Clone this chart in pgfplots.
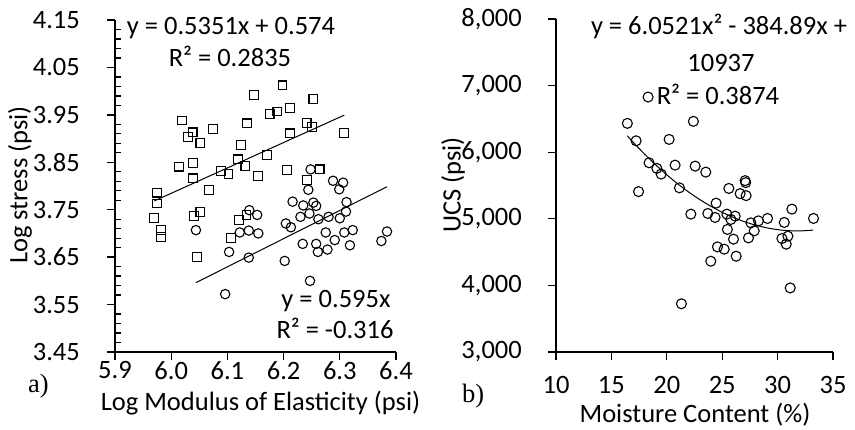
\documentclass[border=0pt]{standalone}
\usepackage{fontspec}
\setmainfont{Carlito}
\newfontfamily\abfont{Liberation Serif}
\usepackage{pgfplots}
\pgfplotsset{compat=1.18}
\pgfplotstableread{
x y
5.975 3.786
5.975 3.763
5.970 3.732
5.982 3.707
5.982 3.692
6.014 3.841
6.019 3.938
6.030 3.904
6.038 3.913
6.039 3.848
6.039 3.816
6.041 3.737
6.052 3.745
6.046 3.650
6.052 3.890
6.067 3.792
6.074 3.920
6.089 3.831
6.102 3.825
6.106 3.690
6.119 3.856
6.121 3.728
6.124 3.886
6.132 3.842
6.134 3.739
6.135 3.932
6.147 3.992
6.154 3.821
6.170 3.865
6.175 3.952
6.189 3.957
6.198 4.012
6.211 3.965
6.211 3.911
6.206 3.834
6.241 3.933
6.250 3.925
6.253 3.984
6.264 3.835
6.242 3.813
6.308 3.912
}\squares
\pgfplotstableread{
x y
6.044 3.707
6.103 3.661
6.096 3.572
6.122 3.702
6.138 3.706
6.139 3.749
6.153 3.739
6.155 3.700
6.138 3.649
6.202 3.642
6.247 3.600
6.216 3.767
6.235 3.759
6.253 3.765
6.258 3.758
6.230 3.735
6.246 3.742
6.262 3.730
6.280 3.735
6.300 3.732
6.312 3.766
6.311 3.746
6.204 3.721
6.213 3.713
6.275 3.702
6.291 3.686
6.308 3.702
6.323 3.707
6.234 3.678
6.258 3.678
6.261 3.661
6.278 3.666
6.318 3.675
6.374 3.684
6.384 3.704
6.248 3.835
6.288 3.811
6.306 3.807
6.299 3.793
6.244 3.792
}\circles
\pgfplotstableread{
x y
16.44 6433
22.40 6463
17.23 6171
20.21 6192
18.40 5841
19.10 5757
19.49 5671
20.75 5806
22.56 5791
23.52 5701
17.45 5408
21.14 5465
25.60 5456
27.07 5573
27.12 5543
26.62 5378
27.16 5348
24.45 5235
22.17 5070
23.70 5080
24.36 5020
25.42 5070
26.17 5040
25.78 4990
27.59 4939
28.27 4969
29.09 5005
31.29 5145
30.60 4945
33.24 5005
25.47 4840
27.89 4819
26.02 4694
27.37 4713
30.39 4704
30.93 4739
30.78 4619
24.57 4578
25.18 4544
26.26 4438
23.97 4363
31.14 3962
21.32 3724
18.31 6828
}\ucs
\begin{document}
\fontsize{26.5}{31}\selectfont
\begin{tikzpicture}[x=1pt,y=1pt]
\useasboundingbox (0pt,0pt) rectangle (855pt,430pt);
\pgfplotsset{
  myax/.style={
    scale only axis,
    axis x line*=bottom, axis y line*=left,
    axis line style={-, line width=1.6pt},
    tick style={line width=1.3pt, black},
    tick align=outside,
    major tick length=8pt,
    minor tick length=6pt,
    /pgf/number format/assume math mode=true,
    scaled ticks=false,
    clip=false,
  }
}
\begin{axis}[myax,
  at={(115pt,78pt)}, anchor=south west,
  width=281pt, height=332pt,
  xmin=5.9, xmax=6.4, ymin=3.45, ymax=4.15,
  xtick={5.9,6.0,6.1,6.2,6.3,6.4},
  ytick={3.45,3.55,3.65,3.75,3.85,3.95,4.05,4.15},
  minor y tick num=4,
  minor tick style={xshift=6pt},
  xticklabel style={inner sep=0pt, yshift=-1pt, /pgf/number format/fixed, /pgf/number format/fixed zerofill, /pgf/number format/precision=1},
  yticklabel style={inner sep=0pt, xshift=-27pt, /pgf/number format/fixed, /pgf/number format/fixed zerofill, /pgf/number format/precision=2},
]
\addplot[only marks, mark=square, mark size=4.4pt, mark options={line width=1.1pt, black}] table[x=x,y=y] {\squares};
\addplot[only marks, mark=o, mark size=4.7pt, mark options={line width=1.1pt, black}] table[x=x,y=y] {\circles};
\addplot[no marks, line width=1pt, black] coordinates {(5.970,3.7685) (6.308,3.9494)};
\addplot[no marks, line width=1pt, black] coordinates {(6.044,3.5962) (6.384,3.7985)};
\end{axis}
\begin{axis}[myax,
  at={(556pt,78pt)}, anchor=south west,
  width=277pt, height=333pt,
  xmin=10, xmax=35, ymin=3000, ymax=8000,
  xtick={10,15,20,25,30,35},
  ytick={3000,4000,5000,6000,7000,8000},
  xticklabel style={inner sep=0pt, yshift=-16pt},
  yticklabel style={inner sep=0pt, xshift=-26pt, /pgf/number format/1000 sep={,}},
]
\addplot[only marks, mark=o, mark size=5pt, mark options={line width=1.1pt, black}] table[x=x,y=y] {\ucs};
\addplot[no marks, line width=1pt, black, smooth] coordinates {
(16.44,6247) (17,6143) (18,5970) (19,5809) (20,5660) (21,5523) (22,5399)
(23,5286) (24,5186) (25,5097) (26,5021) (27,4957) (28,4905) (29,4865)
(30,4837) (31,4822) (32,4818) (33.2,4830)};
\end{axis}
% axis labels
\node[rotate=90] at (20pt,245pt) {Log stress (psi)};
\node[rotate=90] at (453pt,245pt) {UCS (psi)};
\node[anchor=base] at (260.5pt,19pt) {Log Modulus of Elasticity (psi)};
\node[anchor=base] at (695pt,7.3pt) {Moisture Content (\%)};
\node[anchor=base west, inner sep=0pt] at (28pt,37pt) {\abfont a)};
\node[anchor=base west, inner sep=0pt] at (462pt,27pt) {\abfont b)};
% trendline equations
\node[anchor=base] at (231pt,395pt) {y = 0.5351x + 0.574};
\node[anchor=base] at (230pt,363.3pt) {R² = 0.2835};
\node[anchor=base] at (336pt,122.3pt) {y = 0.595x};
\node[anchor=base] at (335pt,91.7pt) {R² = -0.316};
\node[anchor=base] at (719pt,395pt) {y = 6.0521x² - 384.89x +};
\node[anchor=base] at (721pt,358.3pt) {10937};
\node[anchor=base] at (718pt,325pt) {R² = 0.3874};
\end{tikzpicture}
\end{document}
